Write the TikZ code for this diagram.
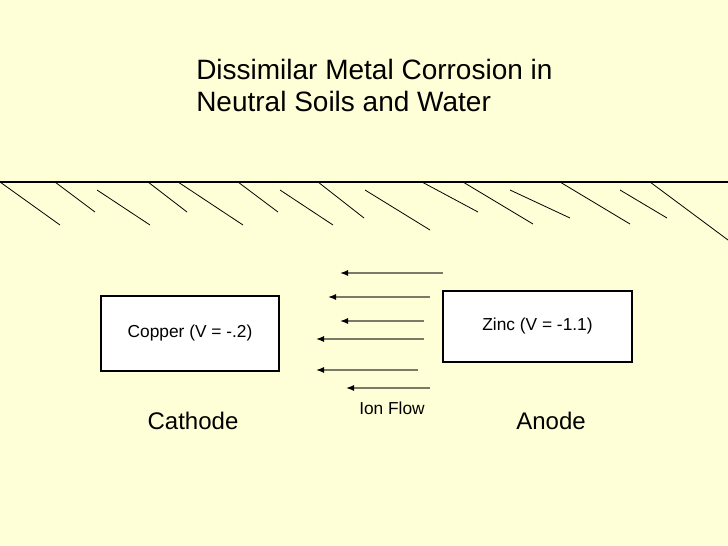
\documentclass[tikz,border=0pt]{standalone}
\usepackage{fontspec}
\setmainfont{Liberation Sans}
\usetikzlibrary{arrows.meta}
\definecolor{bg}{HTML}{FFFFD7}
\definecolor{arr}{HTML}{7A7A6A}
\begin{document}
\begin{tikzpicture}[x=0.75pt,y=-0.75pt,
  hatch/.style={black,line width=0.6pt},
  ionarrow/.style={arr,line width=1pt,-{Latex[black,length=6pt,width=4.5pt]}},
  metal/.style={draw=black,fill=white,line width=0.8pt,font=\fontsize{13}{15}\selectfont},
  lbl/.style={font=\fontsize{18}{20}\selectfont}]
\fill[bg] (0,0) rectangle (728,546);
\useasboundingbox (0,0) rectangle (728,546);
\node[anchor=west,align=left,font=\fontsize{21}{24}\selectfont,inner sep=0pt] (title) at (196,85) {Dissimilar Metal Corrosion in\\Neutral Soils and Water};
\draw[line width=0.9pt] (0,182) -- (728,182);
\foreach \a/\b/\c/\d in {0/182/60/225, 55/182/95/212, 97/190/150/225, 148/182/187/212, 178/182/243/225, 238/182/278/212, 280/190/333/225, 318/182/364/218, 365/190/430/230, 422/182/478/212, 463/182/533/224, 510/190/570/218, 560/182/630/224, 620/190/667/218, 650/182/728/240}
  \draw[hatch] (\a,\b) -- (\c,\d);
\node[metal,minimum width=178*0.75pt,minimum height=75*0.75pt] (cu) at (190,333.5) {Copper (V = -.2)};
\node[metal,minimum width=189*0.75pt,minimum height=71*0.75pt] (zn) at (537.5,326.5) {};
\node[font=\fontsize{13}{15}\selectfont] (zt) at (537.5,326) {Zinc (V = -1.1)};
\coordinate (s1) at (443,273); \coordinate (e1) at (340,273);
\coordinate (s2) at (430,297); \coordinate (e2) at (328,297);
\coordinate (s3) at (424,321); \coordinate (e3) at (340,321);
\coordinate (s4) at (424,339); \coordinate (e4) at (316,339);
\coordinate (s5) at (418,370); \coordinate (e5) at (316,370);
\coordinate (s6) at (430,388); \coordinate (e6) at (346,388);
\foreach \i in {1,...,6} \draw[ionarrow] (s\i) -- (e\i);
\node[font=\fontsize{13}{15}\selectfont] (ion) at (392,408) {Ion Flow};
\node[lbl] (cat) at (193,421) {Cathode};
\node[lbl] (an) at (551,421) {Anode};
\end{tikzpicture}
\end{document}
